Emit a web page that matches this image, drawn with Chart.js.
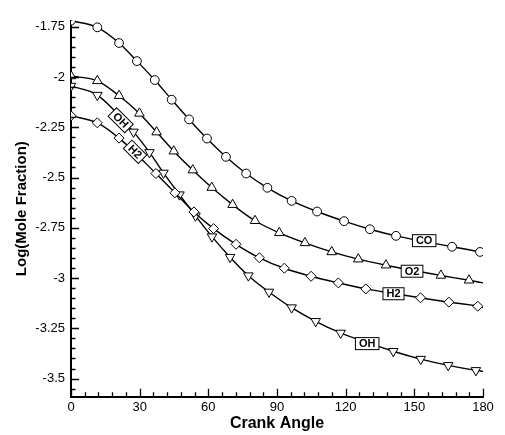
<!DOCTYPE html>
<html>
<head>
<meta charset="utf-8">
<script src="https://cdn.jsdelivr.net/npm/chart.js@4.4.0/dist/chart.umd.min.js"></script>
<style>
  html, body { margin: 0; padding: 0; background: #fff; }
</style>
</head>
<body>
<canvas id="chart" width="505" height="435"></canvas>
<script>
// values (crank angle in degrees, log10 of mole fraction)
const coAngle = [0, 11.5, 21.0, 28.8, 36.6, 44.0, 51.6, 59.4, 67.7, 76.5, 85.8, 96.4, 107.5, 119.3, 130.6, 142.0, 166.5, 178.7, 180];
const coValue = [-1.720, -1.753, -1.831, -1.921, -2.015, -2.113, -2.211, -2.306, -2.397, -2.480, -2.551, -2.616, -2.669, -2.717, -2.757, -2.790, -2.844, -2.870, -2.874];

const o2Angle = [0, 11.5, 21.0, 29.9, 37.4, 44.9, 53.2, 61.5, 70.6, 80.4, 91.0, 102.2, 113.9, 125.5, 137.6, 161.6, 173.9, 180];
const o2Value = [-1.995, -2.019, -2.093, -2.181, -2.274, -2.369, -2.463, -2.550, -2.635, -2.715, -2.775, -2.825, -2.870, -2.906, -2.936, -2.987, -3.011, -3.024];

const ohAngle = [0, 11.5, 27.3, 34.3, 40.4, 47.4, 54.4, 61.6, 69.5, 77.5, 86.5, 96.4, 106.9, 117.8, 140.8, 152.8, 164.8, 176.9, 180];
const ohValue = [-2.045, -2.090, -2.273, -2.375, -2.477, -2.585, -2.690, -2.794, -2.896, -2.988, -3.069, -3.147, -3.215, -3.273, -3.364, -3.403, -3.434, -3.459, -3.464];

const h2Angle = [0, 11.5, 21.0, 37.1, 45.4, 53.7, 62.3, 72.1, 82.3, 93.2, 104.9, 116.8, 128.8, 152.7, 165.1, 177.7, 180];
const h2Value = [-2.193, -2.228, -2.304, -2.480, -2.576, -2.671, -2.754, -2.832, -2.899, -2.951, -2.991, -3.024, -3.054, -3.098, -3.120, -3.140, -3.147];

const xTicks = [0, 30, 60, 90, 120, 150, 180];
const yTicks = [-3.5, -3.25, -3, -2.75, -2.5, -2.25, -2, -1.75];

// curve labels: text, angle, value, text rotation (deg)
const curveLabels = [
    { text: 'CO', x: 154.3, y: -2.814, rot: 0 },
    { text: 'O2', x: 149.0, y: -2.966, rot: 0 },
    { text: 'H2', x: 140.9, y: -3.078, rot: 0 },
    { text: 'OH', x: 129.4, y: -3.326, rot: 0 },
    { text: 'OH', x: 21.7, y: -2.215, rot: 45 },
    { text: 'H2', x: 28.0, y: -2.372, rot: 45 }
];

function toPoints(xs, ys) {
    return xs.map((x, i) => ({ x: x, y: ys[i] }));
}

// the curves run on to 180 deg, where no symbol is drawn
function symbolRadius(r) {
    return ctx => (ctx.raw && ctx.raw.x === 180) ? 0 : r;
}

function series(label, xs, ys, style, radius, rotation) {
    return {
        label: label,
        data: toPoints(xs, ys),
        borderColor: '#000',
        borderWidth: 1.4,
        backgroundColor: '#fff',
        pointStyle: style,
        pointRadius: symbolRadius(radius),
        pointRotation: rotation || 0,
        pointBorderColor: '#000',
        pointBackgroundColor: '#fff',
        pointBorderWidth: 1,
        cubicInterpolationMode: 'monotone',
        fill: false
    };
}

const FONT = '"Liberation Sans", Arial, Helvetica, sans-serif';
Chart.defaults.font.family = FONT;
Chart.defaults.color = '#000';

const innerTicks = {
    id: 'innerTicks',
    afterDraw(chart) {
        const ctx = chart.ctx;
        const xs = chart.scales.x, ys = chart.scales.y;
        const area = chart.chartArea;
        ctx.save();
        ctx.strokeStyle = '#000';
        ctx.lineWidth = 1.3;
        ctx.beginPath();
        for (let a = 0; a <= 180; a += 6) {
            const px = Math.round(xs.getPixelForValue(a)) + 0.5;
            const len = (a % 30 === 0) ? 8 : 4.5;
            ctx.moveTo(px, area.bottom);
            ctx.lineTo(px, area.bottom - len);
        }
        for (let k = -71; k <= -35; k++) {
            const v = k * 0.05;
            if (v < ys.min || v > ys.max) continue;
            const py = Math.round(ys.getPixelForValue(v)) + 0.5;
            const len = (k % 5 === 0) ? 8 : 4.5;
            ctx.moveTo(area.left, py);
            ctx.lineTo(area.left + len, py);
        }
        ctx.stroke();
        ctx.restore();
    }
};

const labelBoxes = {
    id: 'labelBoxes',
    afterDatasetsDraw(chart) {
        const ctx = chart.ctx;
        const xs = chart.scales.x, ys = chart.scales.y;
        ctx.save();
        ctx.font = 'bold 11px ' + FONT;
        ctx.textAlign = 'center';
        ctx.textBaseline = 'middle';
        curveLabels.forEach(l => {
            const px = xs.getPixelForValue(l.x);
            const py = ys.getPixelForValue(l.y);
            const w = ctx.measureText(l.text).width + 7;
            const h = 12;
            ctx.save();
            ctx.translate(px, py);
            ctx.rotate(l.rot * Math.PI / 180);
            ctx.fillStyle = '#fff';
            ctx.fillRect(-w / 2, -h / 2, w, h);
            ctx.strokeStyle = '#000';
            ctx.lineWidth = 1;
            ctx.strokeRect(-w / 2, -h / 2, w, h);
            ctx.fillStyle = '#000';
            ctx.fillText(l.text, 0, 0.5);
            ctx.restore();
        });
        ctx.restore();
    }
};

new Chart(document.getElementById('chart'), {
    type: 'line',
    data: {
        datasets: [
            series('CO', coAngle, coValue, 'circle', 4.4),
            series('O2', o2Angle, o2Value, 'triangle', 5.5),
            series('H2', h2Angle, h2Value, 'rectRot', 5),
            series('OH', ohAngle, ohValue, 'triangle', 5.5, 180)
        ]
    },
    options: {
        responsive: false,
        animation: false,
        layout: { padding: { top: 20.7, right: 22, left: 0, bottom: 0 } },
        plugins: {
            legend: { display: false },
            tooltip: { enabled: false }
        },
        scales: {
            x: {
                type: 'linear',
                position: 'bottom',
                min: 0,
                max: 180,
                afterBuildTicks: s => { s.ticks = xTicks.map(v => ({ value: v })); },
                afterFit: s => { s.height = 38.3; },
                grid: { display: false, drawTicks: false },
                border: { display: true, color: '#000', width: 2 },
                ticks: {
                    color: '#000',
                    font: { size: 13 },
                    padding: 3,
                    maxRotation: 0,
                    callback: v => String(v)
                },
                title: {
                    display: true,
                    text: 'Crank Angle',
                    color: '#000',
                    font: { size: 16, weight: 'bold' },
                    padding: { top: 0, bottom: 2 }
                }
            },
            y: {
                type: 'linear',
                min: -3.59,
                max: -1.72,
                afterBuildTicks: s => { s.ticks = yTicks.map(v => ({ value: v })); },
                afterFit: s => { s.width = 71; },
                grid: { display: false, drawTicks: false },
                border: { display: true, color: '#000', width: 2 },
                ticks: {
                    color: '#000',
                    font: { size: 13 },
                    padding: 6,
                    callback: v => String(v)
                },
                title: {
                    display: true,
                    text: 'Log(Mole Fraction)',
                    color: '#000',
                    font: { size: 15, weight: 'bold' },
                    padding: { top: 13, bottom: 0 }
                }
            }
        }
    },
    plugins: [innerTicks, labelBoxes]
});
</script>
</body>
</html>
